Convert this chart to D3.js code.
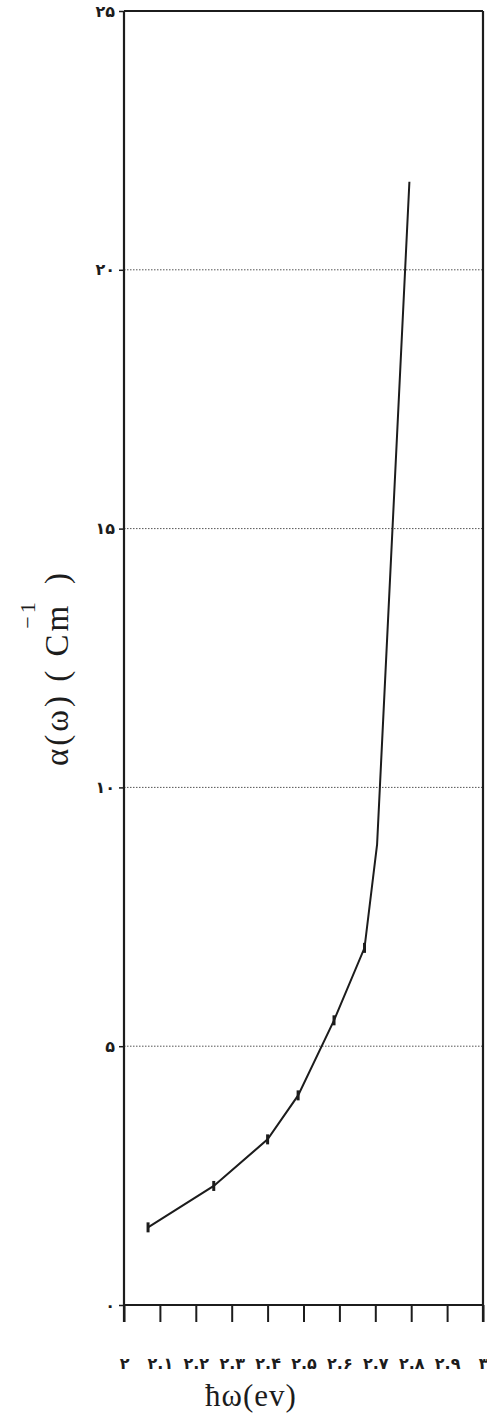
<!DOCTYPE html>
<html>
<head>
<meta charset="utf-8">
<script src="https://cdn.jsdelivr.net/npm/d3@7/dist/d3.min.js"></script>
<style>
  html, body { margin: 0; padding: 0; background: #fff; }
  svg { display: block; }
</style>
</head>
<body>
<svg id="chart" width="487" height="1419"></svg>
<script>
// Data
const energy = [2.067, 2.25, 2.40, 2.485, 2.585, 2.67, 2.705, 2.795];
const alpha  = [1.5, 2.3, 3.2, 4.05, 5.5, 6.9, 8.9, 21.7];
const markedPoints = 6; // first points carry a small tick marker

const xTicks = [2, 2.1, 2.2, 2.3, 2.4, 2.5, 2.6, 2.7, 2.8, 2.9, 3];
const xTickLabels = ["۲", "۲.۱", "۲.۲", "۲.۳", "۲.۴", "۲.۵", "۲.۶", "۲.۷", "۲.۸", "۲.۹", "۳"];
const yTicks = [0, 5, 10, 15, 20, 25];
const yTickLabels = ["۰", "۵", "۱۰", "۱۵", "۲۰", "۲۵"];
const gridValues = [5, 10, 15, 20];

const svg = d3.select("#chart");
const ink = "#1c1c1c";

const x = d3.scaleLinear().domain([2, 3]).range([124, 483]);
const y = d3.scaleLinear().domain([0, 25]).range([1305, 11]);

// dotted gridlines
svg.append("g").selectAll("line").data(gridValues).join("line")
  .attr("x1", x(2)).attr("x2", x(3))
  .attr("y1", d => y(d)).attr("y2", d => y(d))
  .attr("stroke", "#555").attr("stroke-width", 1)
  .attr("stroke-dasharray", "1.5,1.5");

// x axis
const xAxis = d3.axisBottom(x)
  .tickValues(xTicks)
  .tickSize(17)
  .tickPadding(36)
  .tickFormat((d, i) => xTickLabels[i]);
const gx = svg.append("g").attr("transform", `translate(0,${y(0)})`).call(xAxis);
gx.select(".domain").remove();
gx.selectAll(".tick line").attr("stroke", ink).attr("stroke-width", 2);
gx.selectAll(".tick text")
  .attr("fill", ink)
  .style("font-family", "'DejaVu Sans', sans-serif")
  .style("font-size", "16px")
  .style("font-weight", "bold");

// y axis
const yAxis = d3.axisLeft(y)
  .tickValues(yTicks)
  .tickSize(5)
  .tickPadding(4)
  .tickFormat((d, i) => yTickLabels[i]);
const gy = svg.append("g").attr("transform", `translate(${x(2)},0)`).call(yAxis);
gy.select(".domain").remove();
gy.selectAll(".tick line").attr("stroke", ink).attr("stroke-width", 1.5);
gy.selectAll(".tick text")
  .attr("fill", ink)
  .style("font-family", "'DejaVu Sans', sans-serif")
  .style("font-size", "16px")
  .style("font-weight", "bold");

// frame: left and right verticals (extending below the base), top and bottom
const frame = svg.append("g").attr("stroke", ink).attr("fill", "none");
frame.append("line").attr("x1", x(2)).attr("x2", x(2)).attr("y1", y(25)).attr("y2", y(0) + 17).attr("stroke-width", 2.2);
frame.append("line").attr("x1", x(3)).attr("x2", x(3)).attr("y1", y(25)).attr("y2", y(0) + 17).attr("stroke-width", 2.2);
frame.append("line").attr("x1", x(2)).attr("x2", x(3)).attr("y1", y(25)).attr("y2", y(25)).attr("stroke-width", 2);
frame.append("line").attr("x1", x(2)).attr("x2", x(3)).attr("y1", y(0)).attr("y2", y(0)).attr("stroke-width", 2);

// curve
const pts = energy.map((e, i) => [e, alpha[i]]);
svg.append("path")
  .datum(pts)
  .attr("fill", "none")
  .attr("stroke", ink)
  .attr("stroke-width", 2)
  .attr("d", d3.line().x(d => x(d[0])).y(d => y(d[1])));

// markers
svg.append("g").selectAll("line").data(pts.slice(0, markedPoints)).join("line")
  .attr("x1", d => x(d[0])).attr("x2", d => x(d[0]))
  .attr("y1", d => y(d[1]) - 5).attr("y2", d => y(d[1]) + 5)
  .attr("stroke", ink).attr("stroke-width", 3);

// x title
svg.append("text")
  .attr("x", 251).attr("y", 1406)
  .attr("text-anchor", "middle")
  .attr("fill", ink)
  .style("font-family", "'Liberation Serif', 'DejaVu Serif', serif")
  .style("font-size", "31px")
  .style("letter-spacing", "1px")
  .text("ħω(ev)");

// y title
const yt = svg.append("text")
  .attr("transform", "translate(68,668) rotate(-90)")
  .attr("text-anchor", "middle")
  .attr("fill", ink)
  .style("font-family", "'Liberation Serif', 'DejaVu Serif', serif")
  .style("font-size", "33px")
  .style("letter-spacing", "3px");
yt.append("tspan").text("α(ω) ( Cm");
yt.append("tspan").attr("dy", -33).attr("dx", -26).style("font-size", "22px").text("−1");
yt.append("tspan").attr("dy", 33).attr("dx", 4).text(" )");
</script>
</body>
</html>
